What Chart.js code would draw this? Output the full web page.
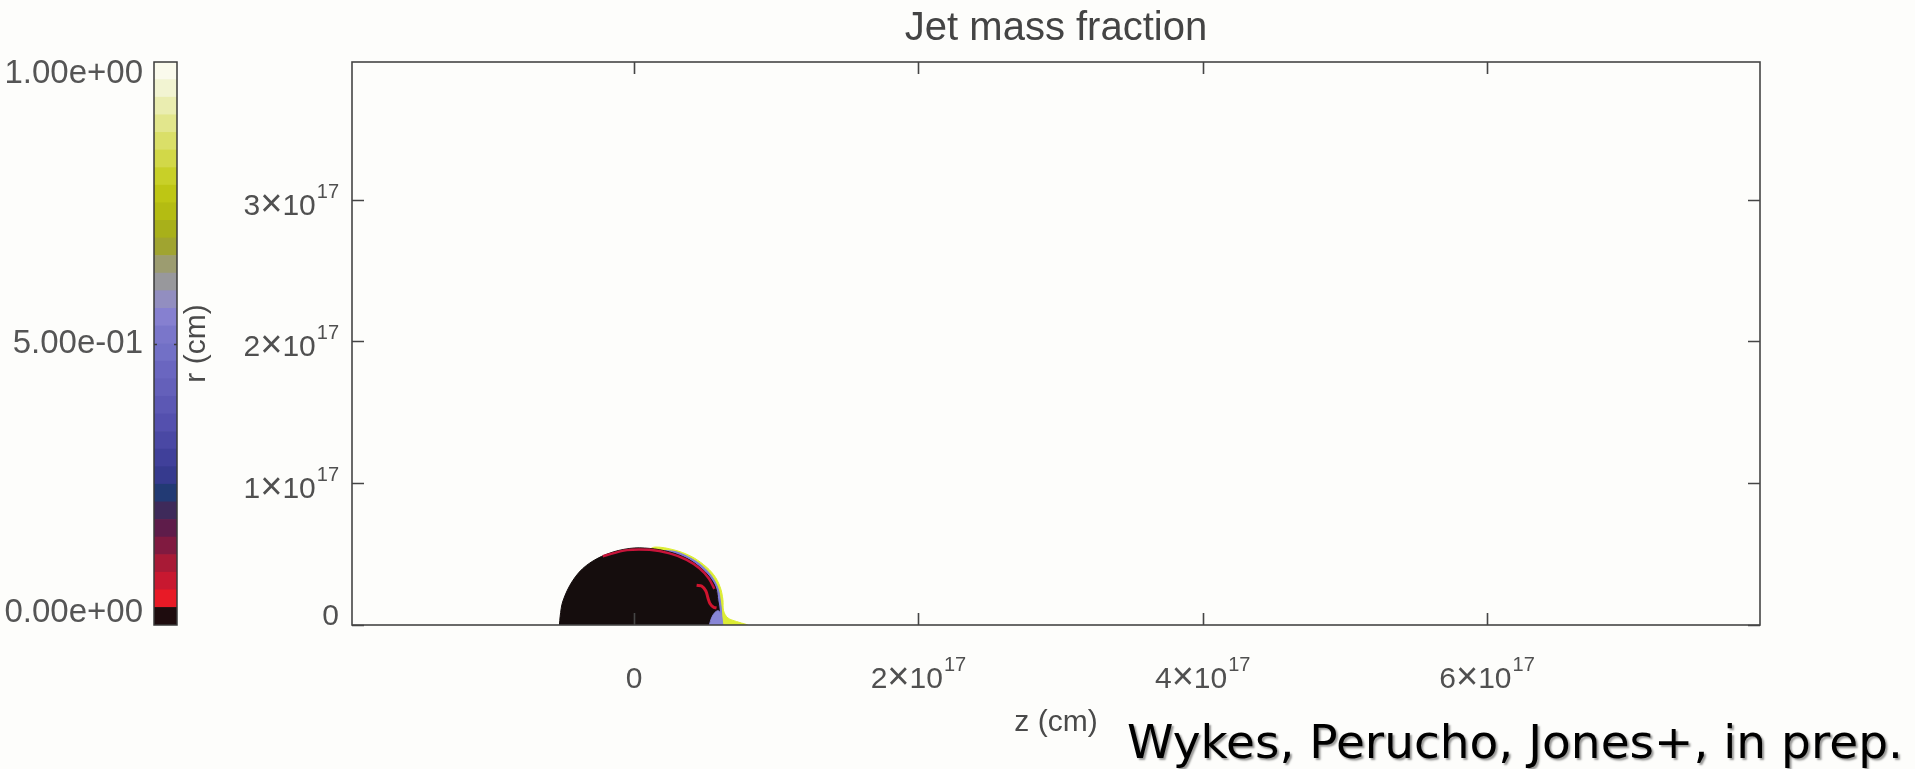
<!DOCTYPE html>
<html>
<head>
<meta charset="utf-8">
<title>Jet mass fraction</title>
<script src="https://cdn.jsdelivr.net/npm/chart.js@4.4.1/dist/chart.umd.min.js"></script>
<style>
  html, body { margin: 0; padding: 0; background: #fdfdfb; }
  #wrap { position: relative; width: 1915px; height: 769px; overflow: hidden; }
  canvas { position: absolute; left: 0; top: 0; }
  #credit {
    position: absolute; left: 1127px; top: 714px;
    font: 47px "DejaVu Sans", sans-serif; line-height: 56px;
    color: #000; white-space: nowrap;
    text-shadow: 2px 2px 2px rgba(0, 0, 0, 0.4);
  }
</style>
</head>
<body>
<div id="wrap">
  <canvas id="jet" width="1915" height="769"></canvas>
  <canvas id="cbar" width="200" height="769"></canvas>
  <div id="credit">Wykes, Perucho, Jones+, in prep.</div>
</div>
<script>
const family = "'Liberation Sans', Arial, Helvetica, sans-serif";
Chart.defaults.font.family = family;

// axis extents, in units of 1e17 cm
const zRange = [-1.984, 7.92];
const rRange = [0, 3.97];

// tick positions and their labels (mantissa x 10^power)
const zTickValues = [0, 2, 4, 6];
const zTickMant = ['0', '2', '4', '6'];
const zTickPow = ['', '17', '17', '17'];
const rTickValues = [0, 1, 2, 3];
const rTickMant = ['0', '1', '2', '3'];
const rTickPow = ['', '17', '17', '17'];

// jet cocoon: black interior (fraction ~ 0)
const domeZ = [-0.525, -0.52, -0.50, -0.43, -0.335, -0.19, -0.03, 0.11, 0.25, 0.37, 0.46, 0.53, 0.575, 0.59, 0.60, 0.60];
const domeR = [0, 0.06, 0.17, 0.315, 0.42, 0.50, 0.54, 0.54, 0.515, 0.47, 0.41, 0.34, 0.26, 0.17, 0.10, 0];
// red mixing layer just inside the contact surface
const rimZ = [-0.22, -0.05, 0.11, 0.25, 0.37, 0.46, 0.525, 0.565];
const rimR = [0.485, 0.528, 0.53, 0.505, 0.46, 0.40, 0.33, 0.255];
// red curl behind the head
const curlZ = [0.44, 0.475, 0.505, 0.52, 0.535, 0.56, 0.58];
const curlR = [0.28, 0.275, 0.24, 0.19, 0.15, 0.125, 0.12];
// blue / purple layer hugging the leading edge
const edgeZ = [0.22, 0.30, 0.40, 0.48, 0.545, 0.59, 0.607, 0.615, 0.62];
const edgeR = [0.525, 0.515, 0.47, 0.415, 0.345, 0.26, 0.17, 0.10, 0];
const pocketZ = [0.53, 0.545, 0.57, 0.595, 0.615, 0.625];
const pocketR = [0, 0.05, 0.09, 0.10, 0.06, 0];
// yellow outer layer running into the trailing wisp on the axis
const outerZ = [0.10, 0.15, 0.28, 0.40, 0.49, 0.56, 0.605, 0.625, 0.63, 0.66, 0.72, 0.79, 0.80];
const outerR = [0.53, 0.55, 0.53, 0.485, 0.425, 0.355, 0.27, 0.18, 0.10, 0.05, 0.025, 0.004, 0];

// colour scale, bottom (0) to top (1)
const cmapColors = [
  '#1e0c0e', '#e81a26', '#c81830', '#a81a36', '#801a40', '#5e1c4a', '#3e2a5a', '#223a74',
  '#363a8e', '#40409a', '#4a48a4', '#5450ae', '#5c58b4', '#6460ba', '#6a66c0', '#7270c6',
  '#7a76ca', '#8680d0', '#928ec0', '#98989c', '#9c9c70', '#a0a430', '#a8b01a', '#b4bc12',
  '#bec614', '#c8d028', '#d2d848', '#dadf68', '#e2e68c', '#eaedb0', '#f2f4d2', '#fafaec'
];
const cbarTicks = [0, 0.5, 1];
const cbarLabels = ['0.00e+00', '5.00e-01', '1.00e+00'];

const pts = (zs, rs) => zs.map((z, i) => ({ x: z, y: rs[i] }));
const layer = (zs, rs, color, filled, width) => ({
  data: pts(zs, rs),
  showLine: true,
  borderColor: color,
  backgroundColor: color,
  borderWidth: width,
  fill: filled ? 'origin' : false,
  pointRadius: 0,
  tension: 0.35
});

// box with inward tick marks on all four sides
const frameTicks = {
  id: 'frameTicks',
  afterDraw(chart, args, o) {
    const { ctx, chartArea: a, scales } = chart;
    ctx.save();
    ctx.strokeStyle = o.color;
    ctx.lineWidth = o.width;
    ctx.beginPath();
    for (const v of o.xTicks) {
      const px = Math.round(scales.x.getPixelForValue(v)) + 0.5;
      ctx.moveTo(px, a.bottom); ctx.lineTo(px, a.bottom - o.length);
      ctx.moveTo(px, a.top); ctx.lineTo(px, a.top + o.length);
    }
    for (const v of o.yTicks) {
      const py = Math.round(scales.y.getPixelForValue(v)) + 0.5;
      ctx.moveTo(a.left, py); ctx.lineTo(a.left + o.length, py);
      ctx.moveTo(a.right, py); ctx.lineTo(a.right - o.length, py);
    }
    ctx.stroke();
    ctx.strokeRect(a.left, a.top, a.right - a.left, a.bottom - a.top);
    ctx.restore();
  }
};

// tick labels written as m×10^p with a raised exponent
const sciLabels = {
  id: 'sciLabels',
  afterDraw(chart, args, o) {
    const { ctx, chartArea: a, scales } = chart;
    const fMant = `${o.size}px ${family}`;
    const fTimes = `${o.timesSize}px ${family}`;
    const fPow = `${o.powSize}px ${family}`;
    const measure = (m, p) => {
      ctx.font = fMant;
      const wm = ctx.measureText(m).width;
      if (!p) return { wm, total: wm };
      const w10 = ctx.measureText('10').width;
      ctx.font = fTimes;
      const wt = ctx.measureText('×').width;
      ctx.font = fPow;
      const wp = ctx.measureText(p).width;
      return { wm, wt, w10, wp, total: wm + wt + w10 + 1 + wp };
    };
    const put = (m, p, left, base) => {
      const w = measure(m, p);
      ctx.font = fMant;
      ctx.fillText(m, left, base);
      if (!p) return;
      ctx.font = fTimes;
      ctx.fillText('×', left + w.wm, base + 1);
      ctx.font = fMant;
      ctx.fillText('10', left + w.wm + w.wt, base);
      ctx.font = fPow;
      ctx.fillText(p, left + w.wm + w.wt + w.w10 + 1, base - o.rise);
    };
    ctx.save();
    ctx.fillStyle = o.color;
    ctx.textAlign = 'left';
    ctx.textBaseline = 'alphabetic';
    zTickValues.forEach((v, i) => {
      const w = measure(zTickMant[i], zTickPow[i]);
      const px = scales.x.getPixelForValue(v);
      put(zTickMant[i], zTickPow[i], px - w.total / 2, a.bottom + o.drop);
    });
    rTickValues.forEach((v, i) => {
      const w = measure(rTickMant[i], rTickPow[i]);
      const py = scales.y.getPixelForValue(v);
      put(rTickMant[i], rTickPow[i], a.left - o.gap - w.total, py + (rTickPow[i] ? 15 : 0));
    });
    ctx.restore();
  }
};

new Chart(document.getElementById('jet'), {
  type: 'scatter',
  data: {
    datasets: [
      layer(curlZ, curlR, '#d0142e', false, 3),
      layer(rimZ, rimR, '#c8143a', false, 2.5),
      layer(pocketZ, pocketR, '#8886d6', true, 1),
      layer(domeZ, domeR, '#150d0d', true, 1),
      layer(edgeZ, edgeR, '#7c7ad8', true, 1),
      layer(outerZ, outerR, '#dcec34', true, 1)
    ]
  },
  options: {
    responsive: false,
    animation: false,
    events: [],
    layout: { padding: { left: 0, right: 155, top: 0, bottom: 0 } },
    plugins: {
      legend: { display: false },
      tooltip: { enabled: false },
      title: {
        display: true,
        text: 'Jet mass fraction',
        fullSize: false,
        color: '#444',
        font: { size: 40, weight: 'normal', lineHeight: 1.2 },
        padding: { top: 5, bottom: 9 }
      },
      frameTicks: { color: '#454545', width: 1.6, length: 12, xTicks: zTickValues, yTicks: rTickValues },
      sciLabels: { color: '#505050', size: 30, timesSize: 38, powSize: 20, rise: 17, drop: 63, gap: 13 }
    },
    scales: {
      x: {
        type: 'linear',
        min: zRange[0],
        max: zRange[1],
        grid: { display: false, drawTicks: false },
        border: { display: false },
        ticks: { display: false },
        afterFit: s => { s.height = 144; },
        title: {
          display: true, text: 'z (cm)', color: '#4a4a4a',
          font: { size: 30 }, padding: { top: 0, bottom: 28 }
        }
      },
      y: {
        type: 'linear',
        min: rRange[0],
        max: rRange[1],
        grid: { display: false, drawTicks: false },
        border: { display: false },
        ticks: { display: false },
        afterFit: s => { s.width = 352; },
        title: {
          display: true, text: 'r (cm)', color: '#4a4a4a',
          font: { size: 30 }, padding: { top: 179, bottom: 0 }
        }
      }
    }
  },
  plugins: [frameTicks, sciLabels]
});

// colour bar: one stacked column, one segment per colour level
new Chart(document.getElementById('cbar'), {
  type: 'bar',
  data: {
    labels: [''],
    datasets: cmapColors.map(c => ({
      data: [1 / cmapColors.length],
      backgroundColor: c,
      borderWidth: 0,
      barPercentage: 1,
      categoryPercentage: 1
    }))
  },
  options: {
    responsive: false,
    animation: false,
    events: [],
    layout: { padding: { left: 0, right: 23, top: 62, bottom: 144 } },
    plugins: {
      legend: { display: false },
      tooltip: { enabled: false },
      frameTicks: { color: '#3a3a3a', width: 1.5, length: 3, xTicks: [], yTicks: [0.5] }
    },
    scales: {
      x: { stacked: true, display: false },
      y: {
        stacked: true,
        min: 0,
        max: 1,
        grid: { display: false, drawTicks: false },
        border: { display: false },
        afterFit: s => { s.width = 154; },
        afterBuildTicks: s => { s.ticks = cbarTicks.map(v => ({ value: v })); },
        ticks: {
          padding: 11,
          color: '#555',
          font: { size: 33, lineHeight: 0.72 },
          callback: (v, i) => {
            if (i === 0) return [cbarLabels[i], ''];
            if (i === cbarTicks.length - 1) return ['', cbarLabels[i]];
            return cbarLabels[i];
          }
        }
      }
    }
  },
  plugins: [frameTicks]
});
</script>
</body>
</html>
